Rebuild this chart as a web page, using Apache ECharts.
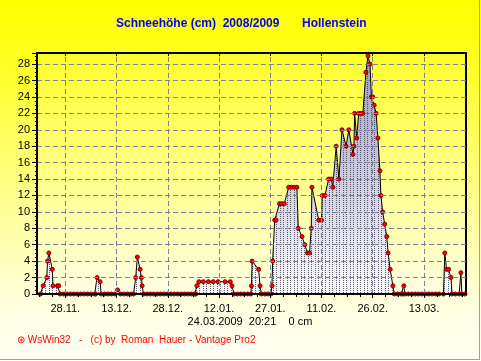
<!DOCTYPE html>
<html><head><meta charset="utf-8">
<script src="https://cdn.jsdelivr.net/npm/echarts@6/dist/echarts.min.js"></script>
<style>html,body{margin:0;padding:0;background:#fff}#c{width:481px;height:361px}</style>
</head><body><div id="c"></div>
<script>
// x = days after 28.11.2008
const days = [
  -7.3,-6.5,-5.4,-5.2,-4.8,-3.8,-3.6,-2.3,-1.9,-1.5,
  -0.5,0.5,1.5,2.5,3.5,4.5,5.5,6.5,7.5,8.6,8.9,9.3,10.2,10.5,
  11.5,12.5,13.5,14.5,15.3,16.2,17.2,18.2,19.2,20.0,
  20.6,21.1,21.9,22.3,22.5,22.9,
  23.9,24.9,25.9,26.9,27.9,28.9,29.9,30.9,31.9,32.9,33.9,34.9,35.9,36.9,37.9,38.2,
  38.5,39.1,40.4,41.9,43.3,44.7,46.8,48.3,48.8,49.4,
  50.4,51.4,52.4,53.4,54.3,54.5,54.7,56.6,57.0,57.4,
  58.4,59.4,60.2,60.5,60.7,61.3,61.7,62.7,63.3,64.1,65.4,66.2,67.0,67.8,
  68.2,69.3,70.1,70.9,71.5,72.0,72.2,74.2,75.0,75.2,76.0,77.1,77.9,78.3,
  79.3,80.1,81.0,82.2,83.0,84.2,84.5,84.7,85.3,85.9,86.5,87.1,
  88.0,88.6,89.2,89.6,90.0,90.4,91.0,91.5,92.1,92.4,92.9,93.5,94.1,94.5,95.1,95.9,96.3,
  97.3,98.3,98.8,99.1,99.4,100.4,101.4,102.4,103.4,104.4,105.4,106.4,107.4,108.4,109.4,110.7,
  111.1,111.6,112.2,112.9,113.2,114.2,115.3,115.8,116.1,117.0
];
const snowCm = [
  0,1,2,4,5,3,1,1,1,0,
  0,0,0,0,0,0,0,0,0,0,0,2,1.5,0,
  0,0,0,0,0.5,0,0,0,0,0,
  2,4.5,3,2,1,0,
  0,0,0,0,0,0,0,0,0,0,0,0,0,0,0,0,
  1,1.5,1.5,1.5,1.5,1.5,1.5,1.5,1,0,
  0,0,0,0,0,1,4,3,1,0,
  0,0,0,1,4,9,9,11,11,11,13,13,13,13,
  8,7,6,5,5,8,13,9,9,12,12,14,14,13,
  18,14,20,18,20,17,18,22,19,22,22,22,
  27,29,28,24,24,23,22,19,15,12,10,8.5,7,5,3,1,0,
  0,0,0,1,0,0,0,0,0,0,0,0,0,0,0,0,
  5,3,3,2,0,0,0,2.6,0,0
];
const tickDays = [0,15,30,45,60,75,90,105];
const tickLabels = ['28.11.','13.12.','28.12.','12.01.','27.01.','11.02.','26.02.','13.03.'];
const xMin = -8.28, xMax = 117.3;
const yMin = 0, yMax = 29.35, yStep = 2;

const FONT = 'Arial, "Liberation Sans", sans-serif';
const GRID_COLOR = '#7f7fa4';
const minorDays = [];
for (let v = -7.5; v <= xMax; v += 3.75) minorDays.push(v);
const pts = days.map((d, i) => [d, snowCm[i]]);

const pc = document.createElement('canvas');
pc.width = 7; pc.height = 2;
const g = pc.getContext('2d');
g.fillStyle = 'rgba(55,55,70,0.8)';
g.fillRect(0, 0, 1, 1);
g.fillRect(3, 0, 1, 1);

const lin = (stops) => ({type:'linear', x:0, y:0, x2:0, y2:1, colorStops: stops.map(s => ({offset:s[0], color:s[1]}))});

const chart = echarts.init(document.getElementById('c'));
const extraAxis = (pos, tickVals, inside, len) => ({
  type:'value', min:xMin, max:xMax, position:pos, z:10,
  axisLine:{show:pos==='top', onZero:false, lineStyle:{color:'#000', width:2}},
  axisTick:{show:true, inside:inside, customValues:tickVals, length:len, lineStyle:{color:'#000'}},
  axisLabel:{show:false},
  splitLine:{show:false},
  minorTick:{show:false}, minorSplitLine:{show:false}
});
chart.setOption({
  animation:false,
  backgroundColor: lin([[0,'#ffff00'],[0.15,'#ffff1c'],[0.55,'#ffff90'],[0.85,'#ffffe0'],[1,'#fffff6']]),
  grid:{left:37, right:15, top:53, bottom:67, show:true,
    backgroundColor: lin([[0,'#ffff28'],[1,'#ffffe6']]), borderColor:'#000', borderWidth:2},
  xAxis:[
    {type:'value', min:xMin, max:xMax, position:'bottom', z:10,
     axisLine:{show:true, onZero:false, lineStyle:{color:'#000', width:2}},
     axisTick:{show:true, customValues:tickDays, length:4, lineStyle:{color:'#000'}},
     axisLabel:{customValues:tickDays, color:'#000', fontSize:11, fontFamily:FONT, margin:9,
       formatter: v => { const i = tickDays.indexOf(v); return i >= 0 ? tickLabels[i] : ''; }},
     splitLine:{show:false}, minorTick:{show:false}, minorSplitLine:{show:false}},
    extraAxis('bottom', minorDays, false, 3),
    extraAxis('top', tickDays, true, 3)
  ],
  yAxis:{type:'value', min:yMin, max:yMax, interval:yStep, z:10,
    axisLine:{show:true, onZero:false, lineStyle:{color:'#000', width:2}},
    axisTick:{show:true, length:5, lineStyle:{color:'#000'}},
    minorTick:{show:true, splitNumber:4, length:2, lineStyle:{color:'#000'}},
    axisLabel:{showMaxLabel:false, color:'#000', fontSize:11, fontFamily:FONT, margin:7,
      formatter: v => (v % 2 === 0 ? String(v) : '')},
    splitLine:{show:true, lineStyle:{color:GRID_COLOR, type:[5,3], width:1}},
    minorSplitLine:{show:false}},
  series:[
    {type:'line', data:pts, showSymbol:false, symbol:'none', lineStyle:{width:0, opacity:0},
     areaStyle:{color: lin([[0,'#9c9cc6'],[1,'#fafafa']]), opacity:1}, z:2, silent:true,
     markLine:{silent:true, symbol:['none','none'], label:{show:false},
       lineStyle:{color:GRID_COLOR, type:[5,3], width:1},
       data: tickDays.map(d => ({xAxis:d}))}},
    {type:'line', data:pts, showSymbol:false, symbol:'none', lineStyle:{width:0, opacity:0},
     areaStyle:{color:{image:pc, repeat:'repeat'}, opacity:1}, z:3, silent:true},
    {type:'line', data:pts, symbol:'circle', symbolSize:4, showSymbol:true,
     lineStyle:{color:'#000', width:1},
     itemStyle:{color:'#ff0000', borderColor:'#800000', borderWidth:1}, z:4}
  ],
  graphic:[
    {type:'text', x:116, y:24, style:{text:'Schneehöhe (cm)  2008/2009', fill:'#0000ff', font:'bold 12px ' + FONT, verticalAlign:'middle'}},
    {type:'text', x:302, y:24, style:{text:'Hollenstein', fill:'#0000ff', font:'bold 12px ' + FONT, verticalAlign:'middle'}},
    {type:'text', x:250, y:322, style:{text:'24.03.2009  20:21    0 cm', fill:'#000', font:'11px ' + FONT, align:'center', verticalAlign:'middle'}},
    {type:'text', x:17, y:340, style:{text:'⊛ WsWin32   -   (c) by  Roman  Hauer - Vantage Pro2', fill:'#ff0000', font:'10px ' + FONT, verticalAlign:'middle'}},
    {type:'line', shape:{x1:479.5, y1:0, x2:479.5, y2:360}, style:{stroke:'#a0a0a0', lineWidth:1}},
    {type:'line', shape:{x1:0, y1:359.5, x2:480, y2:359.5}, style:{stroke:'#a0a0a0', lineWidth:1}}
  ]
});
</script></body></html>
